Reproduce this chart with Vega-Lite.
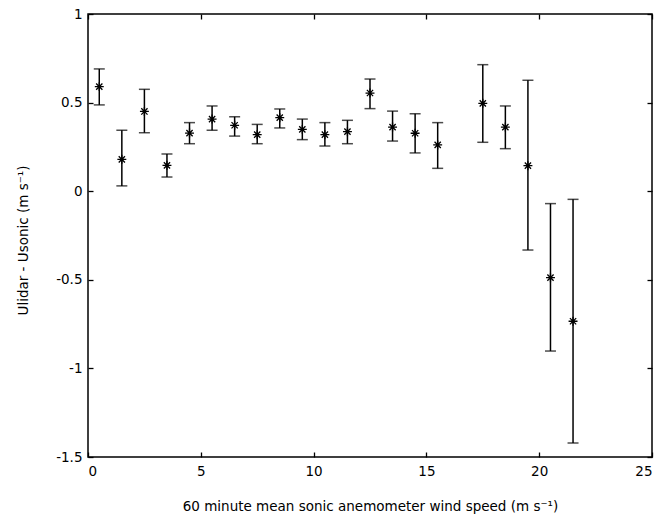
{
  "$schema": "https://vega.github.io/schema/vega-lite/v6.json",
  "autosize": "none",
  "width": 564,
  "height": 443,
  "padding": {"left": 88, "top": 14, "right": 6, "bottom": 63},
  "background": "white",
  "config": {
    "view": {"stroke": "black", "strokeWidth": 1.5},
    "font": "DejaVu Sans",
    "axis": {
      "grid": false,
      "domain": false,
      "tickColor": "black",
      "tickSize": -5,
      "tickWidth": 1.3,
      "labelColor": "black",
      "labelFont": "DejaVu Sans",
      "labelFontSize": 13.5,
      "titleFont": "DejaVu Sans",
      "titleFontSize": 13.5,
      "titleFontWeight": "normal",
      "titleColor": "black",
      "labelExpr": "'' + datum.value"
    }
  },
  "data": {
    "values": [
      {"speed": 0.5, "diff": 0.59, "lo": 0.487, "hi": 0.69},
      {"speed": 1.5, "diff": 0.18, "lo": 0.03, "hi": 0.344},
      {"speed": 2.5, "diff": 0.45, "lo": 0.33, "hi": 0.575},
      {"speed": 3.5, "diff": 0.146, "lo": 0.08, "hi": 0.21},
      {"speed": 4.5, "diff": 0.328, "lo": 0.268, "hi": 0.387},
      {"speed": 5.5, "diff": 0.407, "lo": 0.344, "hi": 0.481},
      {"speed": 6.5, "diff": 0.372, "lo": 0.311, "hi": 0.42},
      {"speed": 7.5, "diff": 0.319, "lo": 0.268, "hi": 0.377},
      {"speed": 8.5, "diff": 0.415, "lo": 0.357, "hi": 0.464},
      {"speed": 9.5, "diff": 0.349, "lo": 0.291, "hi": 0.407},
      {"speed": 10.5, "diff": 0.319, "lo": 0.255, "hi": 0.387},
      {"speed": 11.5, "diff": 0.336, "lo": 0.268, "hi": 0.4},
      {"speed": 12.5, "diff": 0.554, "lo": 0.466, "hi": 0.633},
      {"speed": 13.5, "diff": 0.362, "lo": 0.283, "hi": 0.452},
      {"speed": 14.5, "diff": 0.327, "lo": 0.216, "hi": 0.437},
      {"speed": 15.5, "diff": 0.261, "lo": 0.129, "hi": 0.387},
      {"speed": 17.5, "diff": 0.496, "lo": 0.276, "hi": 0.714},
      {"speed": 18.5, "diff": 0.362, "lo": 0.24, "hi": 0.481},
      {"speed": 19.5, "diff": 0.144, "lo": -0.332, "hi": 0.626},
      {"speed": 20.5, "diff": -0.488, "lo": -0.902, "hi": -0.07},
      {"speed": 21.5, "diff": -0.734, "lo": -1.421, "hi": -0.046}
    ]
  },
  "layer": [
    {
      "mark": {"type": "rule", "color": "black", "strokeWidth": 1.5},
      "encoding": {
        "x": {
          "field": "speed", "type": "quantitative",
          "scale": {"domain": [0, 25], "nice": false, "zero": false},
          "axis": {
            "orient": "bottom",
            "values": [0, 5, 10, 15, 20, 25],
            "labelPadding": 12,
            "title": "60 minute mean sonic anemometer wind speed (m s⁻¹)",
            "titlePadding": 22
          }
        },
        "y": {
          "field": "lo", "type": "quantitative",
          "scale": {"domain": [-1.5, 1], "nice": false, "zero": false},
          "axis": {
            "orient": "left",
            "values": [-1.5, -1, -0.5, 0, 0.5, 1],
            "labelPadding": 11,
            "title": "Ulidar - Usonic (m s⁻¹)",
            "titleX": -65,
            "titleY": 226,
            "titleAngle": -90,
            "titleAlign": "center",
            "titleBaseline": "middle"
          }
        },
        "y2": {"field": "hi"}
      }
    },
    {
      "mark": {"type": "tick", "orient": "horizontal", "color": "black", "size": 11, "thickness": 1.5},
      "encoding": {
        "x": {"field": "speed", "type": "quantitative", "axis": {"orient": "top", "labels": false, "title": null, "values": [0, 5, 10, 15, 20, 25]}},
        "y": {"field": "lo", "type": "quantitative", "axis": {"orient": "right", "labels": false, "title": null, "values": [-1.5, -1, -0.5, 0, 0.5, 1]}}
      }
    },
    {
      "mark": {"type": "tick", "orient": "horizontal", "color": "black", "size": 11, "thickness": 1.5},
      "encoding": {
        "x": {"field": "speed", "type": "quantitative", "axis": null},
        "y": {"field": "hi", "type": "quantitative", "axis": null}
      }
    },
    {
      "mark": {
        "type": "point",
        "shape": "M -1 0 L 1 0 M 0 -1 L 0 1 M -0.7 -0.7 L 0.7 0.7 M -0.7 0.7 L 0.7 -0.7",
        "filled": false,
        "stroke": "black",
        "strokeWidth": 1.3,
        "size": 80,
        "opacity": 1
      },
      "encoding": {
        "x": {"field": "speed", "type": "quantitative", "axis": null},
        "y": {"field": "diff", "type": "quantitative", "axis": null}
      }
    }
  ],
  "resolve": {"axis": {"x": "independent", "y": "independent"}}
}
